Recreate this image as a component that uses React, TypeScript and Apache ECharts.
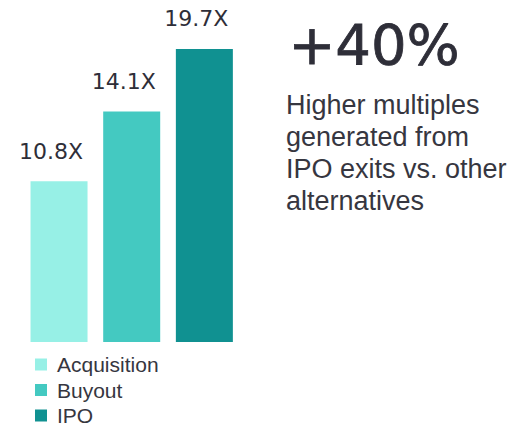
import React, { useEffect, useRef } from "react";
import * as echarts from "echarts";

const categories = ["Acquisition", "Buyout", "IPO"];
// bar heights as drawn in the picture (the Buyout bar is drawn taller than 14.1)
const barHeights = [10.8, 15.5, 19.7];
const valueLabels = ["10.8X", "14.1X", "19.7X"];
const colors = ["#97f0e6", "#44c9c1", "#109191"];
const headline = "+40%";
const blurb = ["Higher multiples", "generated from", "IPO exits vs. other", "alternatives"];

const TEXT = "#2e2e38";

export default function App() {
  const ref = useRef<HTMLDivElement>(null);
  useEffect(() => {
    if (!ref.current) return;
    const chart = echarts.init(ref.current, undefined, { renderer: "svg" });
    const series = categories.map((name, i) => ({
      name,
      type: "bar",
      stack: "all",
      barWidth: 57,
      itemStyle: { color: colors[i] },
      data: categories.map((_, j) => (j === i ? barHeights[i] : "-")),
      label: {
        show: true,
        position: "top",
        distance: 19,
        offset: [-8, 0],
        formatter: () => valueLabels[i],
        fontFamily: "DejaVu Sans",
        fontSize: 22,
        color: TEXT,
      },
    }));
    chart.setOption({
      animation: false,
      grid: { left: 22.7, width: 218, top: 44.5, bottom: 84 },
      xAxis: { type: "category", data: categories, show: false },
      yAxis: { type: "value", min: 0, max: 20, show: false },
      legend: {
        orient: "vertical",
        left: 35,
        top: 354,
        height: 72,
        padding: 0,
        itemWidth: 12,
        itemHeight: 12,
        itemGap: 4.5,
        icon: "rect",
        data: categories,
        textStyle: {
          fontFamily: "Liberation Sans",
          fontSize: 21,
          lineHeight: 21,
          color: "#363640",
          padding: [0, 0, 0, 5],
        },
      },
      graphic: [
        {
          type: "text",
          left: 288,
          top: 16,
          style: {
            text: headline,
            font: "56px 'DejaVu Sans'",
            fill: TEXT,
            stroke: TEXT,
            lineWidth: 0.8,
          },
        },
        {
          type: "text",
          left: 286,
          top: 89,
          style: {
            text: blurb.join("\n"),
            font: "27px 'Liberation Sans'",
            lineHeight: 32,
            fill: "#363640",
          },
        },
      ],
      series,
    });
    return () => chart.dispose();
  }, []);
  return (
    <div
      ref={ref}
      style={{ position: "fixed", left: 0, top: 0, width: 518, height: 426, background: "#fff" }}
    />
  );
}
